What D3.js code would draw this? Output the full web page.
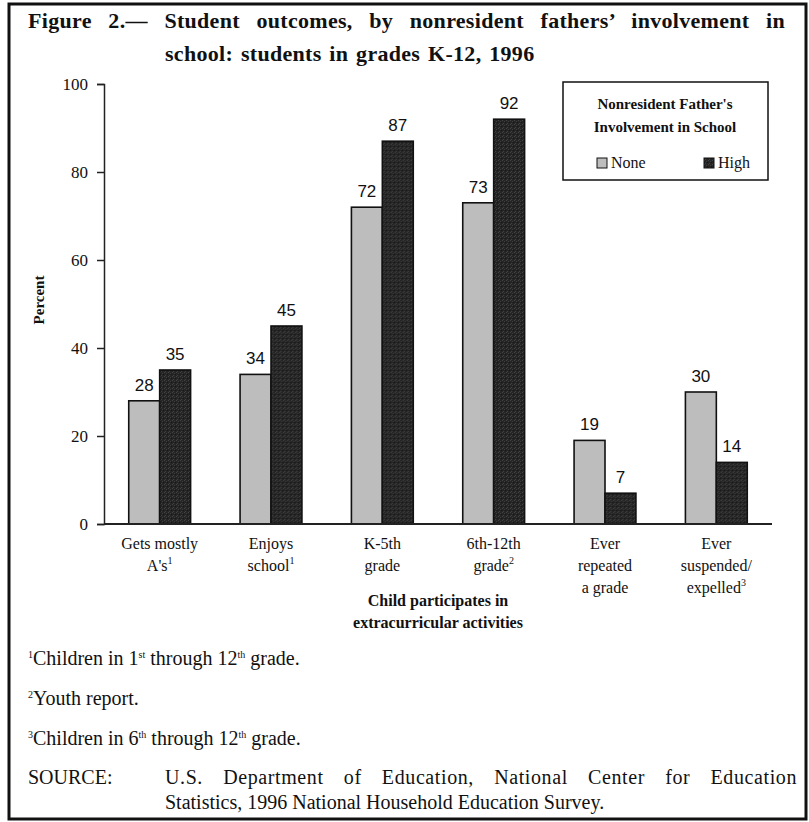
<!DOCTYPE html>
<html lang="en">
<head>
<meta charset="UTF-8">
<title>Figure 2</title>
<script src="https://cdn.jsdelivr.net/npm/d3@7"></script>
<style>
body { margin: 0; background: #fff; }
svg { display: block; }
text { font-family: "Liberation Serif", "DejaVu Serif", serif; fill: #111; }
.num { font-family: "Liberation Sans", "DejaVu Sans", sans-serif; font-size: 17px; }
</style>
</head>
<body>
<script>
// data
const categories = ["grades", "enjoys", "k5", "g612", "repeated", "suspended"]
const catLabels = [
  [["Gets mostly"], ["A's", "1"]],
  [["Enjoys"], ["school", "1"]],
  [["K-5th"], ["grade"]],
  [["6th-12th"], ["grade", "2"]],
  [["Ever"], ["repeated"], ["a grade"]],
  [["Ever"], ["suspended/"], ["expelled", "3"]]
]
const seriesNames = ["None", "High"]
const noneValues = [28, 34, 72, 73, 19, 30]
const highValues = [35, 45, 87, 92, 7, 14]
const yTicks = [0, 20, 40, 60, 80, 100]

const W = 809, H = 822
const svg = d3.select("body").append("svg").attr("width", W).attr("height", H)

// justify a line: a little letter spacing, the rest goes to the word gaps
function justify(t, width, ls) {
  const str = t.text()
  if (ls) t.attr("letter-spacing", ls)
  const gaps = str.split(" ").length - 1
  const natural = t.node().getComputedTextLength()
  if (gaps > 0 && natural < width) t.attr("word-spacing", (width - natural) / gaps)
}

// texture for the dark bars
const defs = svg.append("defs")
const pat = defs.append("pattern").attr("id", "dark").attr("width", 4).attr("height", 4)
  .attr("patternUnits", "userSpaceOnUse")
pat.append("rect").attr("width", 4).attr("height", 4).attr("fill", "#252525")
pat.append("rect").attr("x", 0).attr("y", 0).attr("width", 1).attr("height", 1).attr("fill", "#444")
pat.append("rect").attr("x", 2).attr("y", 1).attr("width", 1).attr("height", 1).attr("fill", "#3c3c3c")
pat.append("rect").attr("x", 1).attr("y", 3).attr("width", 1).attr("height", 1).attr("fill", "#404040")
pat.append("rect").attr("x", 3).attr("y", 2).attr("width", 1).attr("height", 1).attr("fill", "#151515")

const fills = { None: "#bdbdbd", High: "url(#dark)" }

// frame
svg.append("rect").attr("x", 9).attr("y", 4).attr("width", 797).attr("height", 815)
  .attr("fill", "none").attr("stroke", "#111").attr("stroke-width", 3)

// title
const t1 = svg.append("text").attr("x", 28).attr("y", 28)
  .attr("font-size", 22).attr("font-weight", "bold")
  .text("Figure 2.\u2014 Student outcomes, by nonresident fathers\u2019 involvement in")
justify(t1, 757, 0.3)
svg.append("text").attr("x", 165).attr("y", 61)
  .attr("font-size", 22).attr("font-weight", "bold")
  .attr("letter-spacing", 0.3).attr("word-spacing", 2)
  .text("school:  students in grades K-12, 1996")

const x0 = 104, x1 = 772, yTop = 84, yBot = 524

const x = d3.scaleBand().domain(categories).range([x0, x1]).paddingInner(0).paddingOuter(0)
const xs = d3.scaleBand().domain(seriesNames).range([0, x.bandwidth()]).paddingInner(0).paddingOuter(0.8)
const y = d3.scaleLinear().domain([0, 100]).range([yBot, yTop])

// y axis
const yAxis = svg.append("g").attr("transform", `translate(${x0},0)`)
  .call(d3.axisLeft(y).tickValues(yTicks).tickSize(7).tickPadding(9))
yAxis.select(".domain").attr("stroke", "#222").attr("stroke-width", 1.5)
yAxis.selectAll(".tick line").attr("stroke", "#222").attr("stroke-width", 1.5)
yAxis.selectAll(".tick text").attr("font-family", "Liberation Serif, serif").attr("font-size", 17).attr("fill", "#111")

svg.append("text").attr("transform", "translate(44,300) rotate(-90)")
  .attr("text-anchor", "middle").attr("font-size", 15).attr("font-weight", "bold")
  .text("Percent")

// bars
const rows = categories.map((c, i) => ({ cat: c, vals: [
  { s: "None", v: noneValues[i] }, { s: "High", v: highValues[i] }] }))

const groups = svg.append("g").selectAll("g").data(rows).enter().append("g")
  .attr("transform", d => `translate(${x(d.cat)},0)`)

groups.selectAll("rect").data(d => d.vals).enter().append("rect")
  .attr("x", d => xs(d.s))
  .attr("y", d => y(d.v))
  .attr("width", xs.bandwidth())
  .attr("height", d => y(0) - y(d.v))
  .attr("fill", d => fills[d.s])
  .attr("stroke", "#111").attr("stroke-width", 1.6)

groups.selectAll("text.num").data(d => d.vals).enter().append("text")
  .attr("class", "num")
  .attr("x", d => xs(d.s) + xs.bandwidth() / 2)
  .attr("y", d => y(d.v) - 10)
  .attr("text-anchor", "middle")
  .text(d => d.v)

// x axis line
svg.append("line").attr("x1", x0).attr("x2", x1).attr("y1", yBot).attr("y2", yBot)
  .attr("stroke", "#222").attr("stroke-width", 2)

// category labels
categories.forEach((c, i) => {
  const cx = x(c) + x.bandwidth() / 2
  catLabels[i].forEach((ln, j) => {
    const t = svg.append("text").attr("x", cx).attr("y", 549 + j * 22)
      .attr("text-anchor", "middle").attr("font-size", 16)
    t.append("tspan").text(ln[0])
    if (ln[1]) t.append("tspan").attr("font-size", 10).attr("dy", -7).text(ln[1])
  })
})

const midX = (x("k5") + x("g612") + x.bandwidth()) / 2
svg.append("text").attr("x", midX).attr("y", 606).attr("text-anchor", "middle")
  .attr("font-size", 16).attr("font-weight", "bold").text("Child participates in")
svg.append("text").attr("x", midX).attr("y", 628).attr("text-anchor", "middle")
  .attr("font-size", 16).attr("font-weight", "bold").text("extracurricular activities")

// legend
const lg = svg.append("g")
lg.append("rect").attr("x", 563).attr("y", 82).attr("width", 205).attr("height", 98)
  .attr("fill", "#fff").attr("stroke", "#111").attr("stroke-width", 1.5)
lg.append("text").attr("x", 665).attr("y", 109).attr("text-anchor", "middle")
  .attr("font-size", 15).attr("font-weight", "bold").text("Nonresident Father's")
lg.append("text").attr("x", 665).attr("y", 132).attr("text-anchor", "middle")
  .attr("font-size", 15).attr("font-weight", "bold").text("Involvement in School")
const legX = [597, 704]
seriesNames.forEach((s, i) => {
  lg.append("rect").attr("x", legX[i]).attr("y", 158).attr("width", 10).attr("height", 10)
    .attr("fill", fills[s]).attr("stroke", "#111").attr("stroke-width", 1)
  lg.append("text").attr("x", legX[i] + 14).attr("y", 168).attr("font-size", 16).text(s)
})

// footnotes
const notes = [
  [["1", true], ["Children in 1"], ["st", true], [" through 12"], ["th", true], [" grade."]],
  [["2", true], ["Youth report."]],
  [["3", true], ["Children in 6"], ["th", true], [" through 12"], ["th", true], [" grade."]]
]
notes.forEach((n, i) => {
  const t = svg.append("text").attr("x", 28).attr("y", 665 + i * 40).attr("font-size", 20)
  n.forEach(p => {
    if (p[1]) t.append("tspan").attr("font-size", 10).attr("baseline-shift", "7").text(p[0])
    else t.append("tspan").text(p[0])
  })
})
svg.append("text").attr("x", 28).attr("y", 784).attr("font-size", 20).text("SOURCE:")
const src = svg.append("text").attr("x", 165).attr("y", 784).attr("font-size", 20)
  .text("U.S. Department of Education, National Center for Education")
justify(src, 632, 0.6)
svg.append("text").attr("x", 165).attr("y", 809).attr("font-size", 20)
  .text("Statistics, 1996 National Household Education Survey.")
</script>
</body>
</html>
